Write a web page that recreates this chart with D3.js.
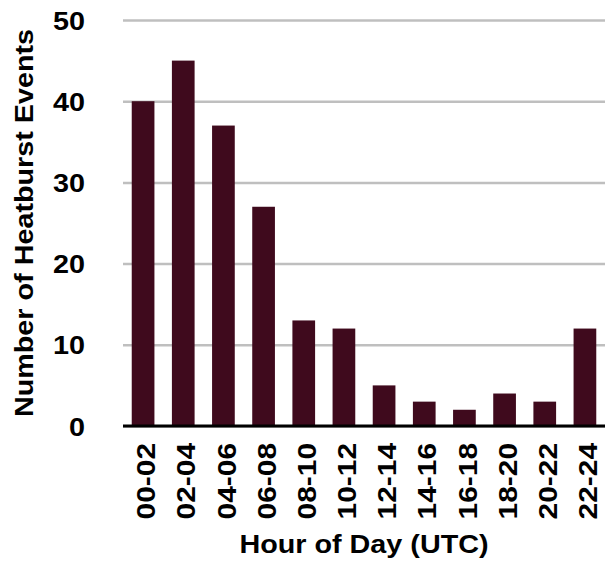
<!DOCTYPE html>
<html>
<head>
<meta charset="utf-8">
<script src="https://cdn.jsdelivr.net/npm/d3@7"></script>
<style>
  body { margin: 0; background: #fff; }
  text { font-family: "Liberation Sans", Arial, Helvetica, sans-serif; font-weight: bold; fill: #000; }
</style>
</head>
<body>
<div id="chart"></div>
<script>
// chart data
const hourBins = ["00-02", "02-04", "04-06", "06-08", "08-10", "10-12",
                  "12-14", "14-16", "16-18", "18-20", "20-22", "22-24"];
const eventCounts = [40, 45, 37, 27, 13, 12, 5, 3, 2, 4, 3, 12];
const yTicks = [0, 10, 20, 30, 40, 50];

const totalWidth = 605;
const totalHeight = 563;
const margin = { top: 20, right: 0, bottom: 137, left: 123 };
const width = totalWidth - margin.left - margin.right;
const height = totalHeight - margin.top - margin.bottom;

// the reference font is wider than Liberation Sans, stretch along the reading direction
const stretch = 1.15;

const svg = d3.select("#chart")
  .append("svg")
  .attr("width", totalWidth)
  .attr("height", totalHeight);

const g = svg.append("g")
  .attr("transform", `translate(${margin.left},${margin.top})`);

// scales
const x = d3.scaleBand()
  .domain(hourBins)
  .range([0, width])
  .paddingInner(0.435)
  .paddingOuter(0.2175);

const y = d3.scaleLinear()
  .domain([0, 50])
  .range([height, 0]);

// y axis with grid lines
const yAxisGroup = g.append("g")
  .attr("class", "axis y-axis")
  .call(d3.axisLeft(y).tickValues(yTicks).tickSize(-width).tickPadding(38));

yAxisGroup.select(".domain").remove();
yAxisGroup.selectAll(".tick line")
  .attr("stroke", "#bfbfbf")
  .attr("stroke-width", 2.5);
yAxisGroup.selectAll(".tick text")
  .attr("transform", `scale(${stretch},1)`)
  .attr("x", -38 / stretch)
  .attr("dy", "0.36em")
  .style("font-size", "25px");

// bars
g.selectAll(".bar")
  .data(eventCounts)
  .enter()
  .append("rect")
  .attr("class", "bar")
  .attr("x", (d, i) => x(hourBins[i]))
  .attr("width", x.bandwidth())
  .attr("y", (d) => y(d))
  .attr("height", (d) => y(0) - y(d))
  .attr("fill", "#3f0a1d");

// x axis, rotated labels
const xAxisGroup = g.append("g")
  .attr("class", "axis x-axis")
  .attr("transform", `translate(0, ${height})`)
  .call(d3.axisBottom(x).tickSize(0));

xAxisGroup.select(".domain").remove();
xAxisGroup.selectAll(".tick text")
  .attr("transform", `rotate(-90) scale(${stretch},1)`)
  .attr("x", -17 / stretch)
  .attr("y", 0)
  .attr("dy", "0.47em")
  .style("text-anchor", "end")
  .style("font-size", "26px");

// black baseline
g.append("line")
  .attr("x1", 0)
  .attr("x2", width)
  .attr("y1", y(0))
  .attr("y2", y(0))
  .attr("stroke", "#000")
  .attr("stroke-width", 3);

// axis titles
svg.append("text")
  .attr("transform", `rotate(-90) scale(${stretch},1)`)
  .attr("x", -(margin.top + height / 2) / stretch)
  .attr("y", 33)
  .style("text-anchor", "middle")
  .style("font-size", "25px")
  .text("Number of Heatburst Events");

svg.append("text")
  .attr("transform", `translate(${margin.left + width / 2},553) scale(${stretch},1)`)
  .style("text-anchor", "middle")
  .style("font-size", "25px")
  .text("Hour of Day (UTC)");
</script>
</body>
</html>
